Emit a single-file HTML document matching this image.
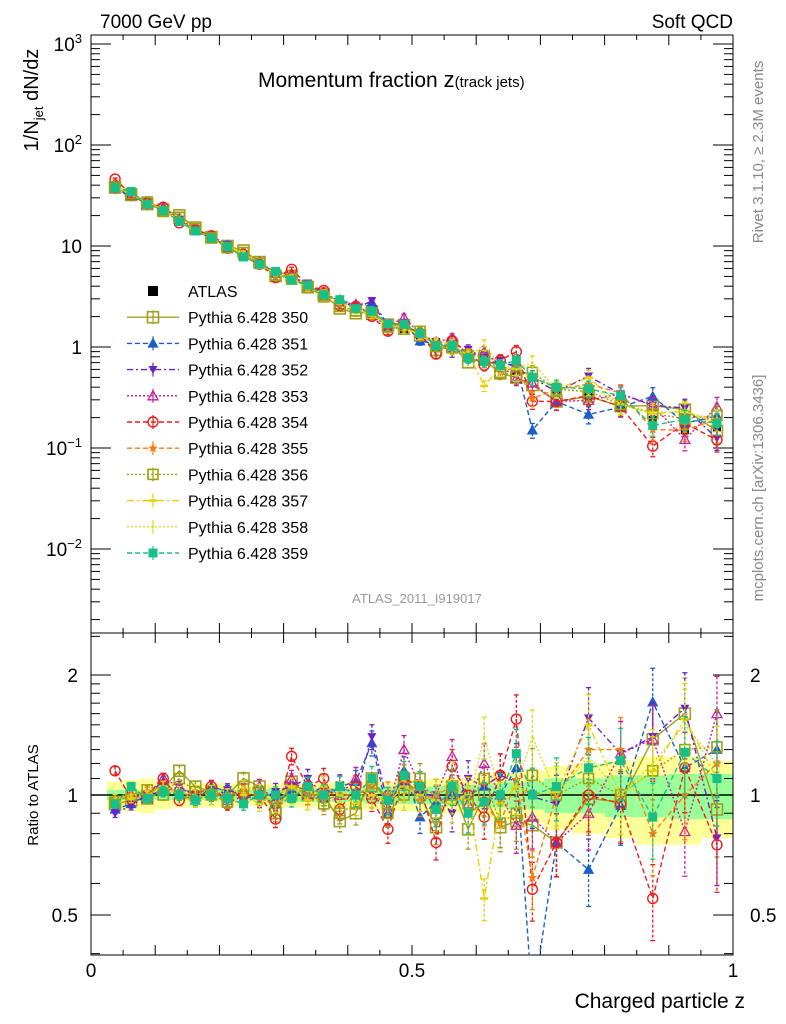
<!DOCTYPE html>
<html><head><meta charset="utf-8"><style>
body{margin:0;background:#fff;}
svg{display:block;font-family:"Liberation Sans",Arial,sans-serif;}
</style></head><body>
<svg id="chart" width="786" height="1024" viewBox="0 0 786 1024" xmlns="http://www.w3.org/2000/svg">
<defs>
<clipPath id="clipMain"><rect x="91" y="35" width="642" height="598"/></clipPath>
<clipPath id="clipRatio"><rect x="91" y="633" width="642" height="322"/></clipPath>
</defs>
<text x="100" y="28" font-size="19">7000 GeV pp</text>
<text x="733" y="28" font-size="19" text-anchor="end">Soft QCD</text>
<text x="258" y="87" font-size="21">Momentum fraction <tspan font-size="22">z</tspan><tspan font-size="15">(track jets)</tspan></text>
<text transform="translate(38,100) rotate(-90)" font-size="20" text-anchor="middle">1/N<tspan font-size="13" dy="5">jet</tspan><tspan dy="-5"> dN/dz</tspan></text>
<text transform="translate(763,152) rotate(-90)" font-size="15" fill="#888" text-anchor="middle">Rivet 3.1.10, ≥ 2.3M events</text>
<text transform="translate(763,488) rotate(-90)" font-size="15" fill="#888" text-anchor="middle">mcplots.cern.ch [arXiv:1306.3436]</text>
<text x="417" y="603" font-size="13" fill="#999" text-anchor="middle">ATLAS_2011_I919017</text>
<text transform="translate(38,795) rotate(-90)" font-size="15" text-anchor="middle">Ratio to ATLAS</text>
<text x="745" y="1008" font-size="21" text-anchor="end">Charged particle z</text>
<g id="gRatioBands"></g>
<g id="gAxes"></g>
<g id="gMain" clip-path="url(#clipMain)"></g>
<g id="gRatio" clip-path="url(#clipRatio)"></g>
<g id="gLegend"></g>
</svg>
<script>
const zBins=[0.0375,0.0625,0.0875,0.1125,0.1375,0.1625,0.1875,0.2125,0.2375,0.2625,0.2875,0.3125,0.3375,0.3625,0.3875,0.4125,0.4375,0.4625,0.4875,0.5125,0.5375,0.5625,0.5875,0.6125,0.6375,0.6625,0.6875,0.725,0.775,0.825,0.875,0.925,0.975];
const atlasValues=[40,33,26.5,22,17.5,14.5,12,10,8.2,6.6,5.6,4.7,3.9,3.3,2.8,2.4,2.05,1.75,1.5,1.3,1.12,0.98,0.86,0.75,0.66,0.58,0.5,0.38,0.33,0.27,0.19,0.15,0.16];
const atlasStatErr=[0.03,0.03,0.03,0.03,0.03,0.03,0.03,0.03,0.03,0.03,0.04,0.04,0.04,0.04,0.04,0.04,0.05,0.05,0.05,0.05,0.05,0.06,0.06,0.06,0.07,0.08,0.08,0.1,0.1,0.12,0.12,0.13,0.13];
const atlasTotErr=[0.08,0.09,0.1,0.08,0.07,0.07,0.07,0.07,0.06,0.06,0.07,0.07,0.07,0.07,0.08,0.08,0.08,0.08,0.09,0.09,0.1,0.1,0.1,0.12,0.13,0.14,0.15,0.18,0.2,0.22,0.25,0.25,0.22];
const mcErr=[0.04,0.04,0.04,0.05,0.05,0.05,0.06,0.06,0.06,0.07,0.08,0.08,0.09,0.1,0.1,0.11,0.12,0.13,0.14,0.15,0.16,0.17,0.18,0.2,0.22,0.25,0.28,0.3,0.32,0.34,0.36,0.38,0.4];
const r350=[0.95,0.97,0.98,1.04,1.15,1.05,1.02,1.0,1.1,1.05,0.9,1.08,1.0,1.0,0.86,0.9,1.1,0.95,1.1,1.0,0.83,1.05,0.82,1.0,0.83,0.86,0.84,0.76,0.98,0.96,1.38,1.6,0.92];
const r351=[0.92,0.95,1.0,1.08,1.0,0.97,1.05,1.02,0.98,1.0,0.95,1.03,1.0,0.98,1.05,1.08,1.35,0.9,1.15,0.88,0.96,1.0,1.0,1.05,1.0,1.17,0.3,0.76,0.65,0.94,1.71,1.17,1.3];
const r352=[0.9,0.94,1.0,1.02,1.05,1.0,0.98,1.03,1.0,0.97,1.02,1.05,1.1,1.0,1.06,1.0,1.4,0.95,1.05,1.0,1.0,0.9,1.1,1.05,1.12,1.08,0.99,0.95,1.56,1.27,1.4,1.65,0.78];
const r353=[0.96,1.0,0.98,1.1,1.05,0.99,1.02,0.97,1.03,1.05,0.97,1.1,1.0,1.05,1.0,1.1,1.0,0.92,1.3,1.05,1.0,1.25,0.95,1.2,1.0,0.84,0.88,0.76,0.9,1.27,1.38,0.81,1.6];
const r354=[1.15,0.98,1.0,1.1,0.97,1.0,1.05,0.95,1.0,1.0,0.87,1.25,1.05,1.1,0.92,1.05,0.98,0.82,1.1,1.05,0.76,1.18,1.0,0.88,1.12,1.55,0.58,0.76,1.0,0.95,0.55,1.17,0.75];
const r355=[0.97,1.0,1.02,1.05,1.02,0.98,1.0,1.0,1.02,0.98,0.95,1.05,1.0,0.97,1.0,1.0,1.05,1.0,1.1,0.97,1.0,1.05,0.9,0.95,0.85,1.09,0.62,1.0,1.3,1.3,0.8,1.0,1.2];
const r356=[0.96,1.0,1.03,1.0,1.1,1.02,1.0,0.96,1.05,1.02,0.92,1.0,1.02,0.95,0.9,0.95,1.05,0.9,1.0,1.1,0.9,1.0,0.95,1.1,0.85,0.9,1.12,1.0,1.1,1.0,1.15,1.3,1.32];
const r357=[0.95,0.98,1.0,1.05,1.0,0.96,1.02,1.0,1.0,0.95,1.0,1.05,0.97,1.05,1.0,0.95,1.0,0.96,1.05,1.0,0.97,0.95,1.0,0.55,0.95,1.05,1.0,1.02,1.5,1.0,1.15,1.55,1.1];
const r358=[0.98,1.0,1.0,1.05,1.02,1.0,0.98,1.0,1.05,1.02,0.95,1.0,1.05,1.0,1.02,1.0,1.0,0.97,1.0,1.05,1.0,1.1,0.95,1.4,1.0,1.05,1.4,1.0,1.25,1.0,1.2,1.5,1.2];
const r359=[0.95,1.05,0.98,1.02,1.0,0.97,1.0,0.98,0.95,1.0,1.0,0.98,1.05,1.0,1.05,1.0,1.1,0.97,1.12,1.05,0.92,1.05,0.9,0.96,1.0,1.27,1.0,1.05,1.17,1.22,0.88,1.28,1.1];
const seriesNames=["Pythia 6.428 350","Pythia 6.428 351","Pythia 6.428 352","Pythia 6.428 353","Pythia 6.428 354","Pythia 6.428 355","Pythia 6.428 356","Pythia 6.428 357","Pythia 6.428 358","Pythia 6.428 359"];
const seriesRatios=[r350,r351,r352,r353,r354,r355,r356,r357,r358,r359];
const yTickLabels=["10^3","10^2","10","1","10^-1","10^-2"];
const xTickLabels=["0","0.5","1"];
const ratioTickLabels=["2","1","0.5"];

const styles=[
 {c:"#a0a020",d:"",m:"osq",s:11},
 {c:"#1a5fc8",d:"5,3",m:"tri",s:9},
 {c:"#6a22c8",d:"6,3,2,3",m:"dtri",s:9},
 {c:"#c81ea0",d:"2,2",m:"otri",s:10},
 {c:"#ee1c1c",d:"5,3",m:"ocirc",s:10},
 {c:"#ff7a10",d:"5,3",m:"star",s:10},
 {c:"#a0a010",d:"2,2",m:"osq",s:10},
 {c:"#e8d000",d:"7,3,2,3",m:"dash",s:8},
 {c:"#d0e020",d:"2,2",m:"dot",s:4},
 {c:"#18c088",d:"5,3",m:"fsq",s:8}];

const NS="http://www.w3.org/2000/svg";
function el(tag,attrs,parent){const e=document.createElementNS(NS,tag);for(const k in attrs)e.setAttribute(k,attrs[k]);if(parent)parent.appendChild(e);return e;}
const X=z=>91+z*642;
const YM=v=>347-101*Math.log10(v);
const YR=r=>795-120*Math.log2(r);

function marker(g,type,x,y,s,c){
 const h=s/2;let e;
 if(type==="osq"||type==="fsq"){e=el("rect",{x:x-h,y:y-h,width:s,height:s,fill:type==="fsq"?c:"none",stroke:c,"stroke-width":type==="osq"?1.6:1},g);}
 else if(type==="sq"){e=el("rect",{x:x-h,y:y-h,width:s,height:s,fill:c},g);}
 else if(type==="tri"||type==="otri"){e=el("polygon",{points:`${x},${y-h} ${x+h},${y+h*0.8} ${x-h},${y+h*0.8}`,fill:type==="tri"?c:"none",stroke:c,"stroke-width":1.3},g);}
 else if(type==="dtri"){e=el("polygon",{points:`${x},${y+h} ${x+h},${y-h*0.8} ${x-h},${y-h*0.8}`,fill:c},g);}
 else if(type==="ocirc"){e=el("circle",{cx:x,cy:y,r:h,fill:"none",stroke:c,"stroke-width":1.4},g);}
 else if(type==="star"){let p=[];for(let i=0;i<10;i++){const a=-Math.PI/2+i*Math.PI/5;const r=i%2?h*0.45:h;p.push((x+r*Math.cos(a)).toFixed(1)+","+(y+r*Math.sin(a)).toFixed(1));}e=el("polygon",{points:p.join(" "),fill:c},g);}
 else if(type==="dash"){e=el("rect",{x:x-h,y:y-1.2,width:s,height:2.4,fill:c},g);}
 else if(type==="dot"){e=el("circle",{cx:x,cy:y,r:h*0.6,fill:c},g);}
 return e;
}

const ax=document.getElementById("gAxes");
el("rect",{x:91,y:35,width:642,height:598,fill:"none",stroke:"#000","stroke-width":1},ax);
el("rect",{x:91,y:633,width:642,height:322,fill:"none",stroke:"#000","stroke-width":1},ax);
for(let i=0;i<=20;i++){const z=i*0.05,x=X(z),L=(i%2===0)?10:5;
 for(const [y0,dir] of [[35,1],[633,-1],[633,1],[955,-1]]){el("line",{x1:x,x2:x,y1:y0,y2:y0+dir*L,stroke:"#000","stroke-width":1},ax);}
}
xTickLabels.forEach((t,i)=>{const tx=el("text",{x:X(i*0.5),y:977,"font-size":19,"text-anchor":"middle"},ax);tx.textContent=t;
 
 });
for(let d=-3;d<=3;d++){for(let m=1;m<10;m++){const v=m*Math.pow(10,d),y=YM(v);if(y<35||y>633)continue;const L=m===1?20:9;
 el("line",{x1:91,x2:91+L,y1:y,y2:y,stroke:"#000","stroke-width":1},ax);el("line",{x1:733,x2:733-L,y1:y,y2:y,stroke:"#000","stroke-width":1},ax);}}
yTickLabels.forEach((t,i)=>{const y=YM(Math.pow(10,3-i));const g=el("text",{x:82,y:y+7,"font-size":19,"text-anchor":"end"},ax);
 
 
 const p=t.split("^");g.appendChild(document.createTextNode(p[0]));if(p[1]){const ts=el("tspan",{dy:-8,"font-size":13},g);ts.textContent=p[1].replace("-","−");}});
[0.4,0.5,0.6,0.7,0.8,0.9,1,1.1,1.2,1.3,1.4,1.5,1.6,1.7,1.8,1.9,2,2.5].forEach(r=>{const y=YR(r);if(y<633||y>955)return;const L=(r===0.5||r===1||r===2)?20:9;
 el("line",{x1:91,x2:91+L,y1:y,y2:y,stroke:"#000","stroke-width":1},ax);el("line",{x1:733,x2:733-L,y1:y,y2:y,stroke:"#000","stroke-width":1},ax);});
ratioTickLabels.forEach(t=>{const y=YR(parseFloat(t));
 const a=el("text",{x:78,y:y+7,"font-size":19,"text-anchor":"end"},ax);a.textContent=t;
 
 
 const b=el("text",{x:750,y:y+7,"font-size":19},ax);b.textContent=t;
 
 });

function edges(i){const lo=i===0?zBins[0]-0.0125:(zBins[i]+zBins[i-1])/2;const hi=i===zBins.length-1?zBins[i]+0.025:(zBins[i]+zBins[i+1])/2;return [lo,hi];}
const gb=document.getElementById("gRatioBands");
zBins.forEach((z,i)=>{const [lo,hi]=edges(i);
 const yb=el("rect",{x:X(lo),width:X(hi)-X(lo),y:YR(1+atlasTotErr[i]),height:YR(1-atlasTotErr[i])-YR(1+atlasTotErr[i]),fill:"#ffff99"},gb);
 
 
 const gbd=el("rect",{x:X(lo),width:X(hi)-X(lo),y:YR(1+atlasStatErr[i]),height:YR(1-atlasStatErr[i])-YR(1+atlasStatErr[i]),fill:"#99ff99"},gb);
 
 });
el("line",{x1:91,x2:733,y1:YR(1),y2:YR(1),stroke:"#000","stroke-width":1.5},gb);

const gm=document.getElementById("gMain"),gr=document.getElementById("gRatio");
function errbar(g,x,y1,y2,c){el("line",{x1:x,x2:x,y1:y1,y2:y2,stroke:c,"stroke-width":1.3,"stroke-dasharray":"3,2"},g);
 el("line",{x1:x-2.5,x2:x+2.5,y1:y1,y2:y1,stroke:c,"stroke-width":1.3},g);el("line",{x1:x-2.5,x2:x+2.5,y1:y2,y2:y2,stroke:c,"stroke-width":1.3},g);}

// ATLAS data first (underneath MC)
const ga=el("g",{},gm);
zBins.forEach((z,i)=>{const x=X(z),v=atlasValues[i];
 el("line",{x1:x,x2:x,y1:YM(v*(1+atlasTotErr[i])),y2:YM(v*(1-atlasTotErr[i])),stroke:"#000","stroke-width":1.3},ga);
 const m=marker(ga,"sq",x,YM(v),8,"#000");
 
 });

seriesRatios.forEach((rs,k)=>{const st=styles[k];
 const gs=el("g",{},gm);
 const gsr=el("g",{},gr);
 const pm=zBins.map((z,i)=>X(z).toFixed(1)+","+YM(atlasValues[i]*rs[i]).toFixed(1)).join(" ");
 const pr=zBins.map((z,i)=>X(z).toFixed(1)+","+YR(rs[i]).toFixed(1)).join(" ");
 el("polyline",{points:pm,fill:"none",stroke:st.c,"stroke-width":1.4,"stroke-dasharray":st.d},gs);
 el("polyline",{points:pr,fill:"none",stroke:st.c,"stroke-width":1.4,"stroke-dasharray":st.d},gsr);
 zBins.forEach((z,i)=>{const x=X(z),v=atlasValues[i]*rs[i],e=mcErr[i]*0.6;
  errbar(gs,x,YM(v*(1+e)),YM(v*(1-e)),st.c);
  errbar(gsr,x,YR(rs[i]*(1+e)),YR(rs[i]*(1-e)),st.c);
  const m1=marker(gs,st.m,x,YM(v),st.s,st.c);
  
  
  const m2=marker(gsr,st.m,x,YR(rs[i]),st.s,st.c);
  
  });
});

const gl=document.getElementById("gLegend");
const names=["ATLAS"].concat(seriesNames);
names.forEach((n,j)=>{const y=291+j*26.2;const g=el("g",{},gl);
 
 
 if(j===0){marker(g,"sq",153,y,10,"#000");}
 else{const st=styles[j-1];el("line",{x1:127,x2:179,y1:y,y2:y,stroke:st.c,"stroke-width":1.4,"stroke-dasharray":st.d},g);
  el("line",{x1:153,x2:153,y1:y-7,y2:y+7,stroke:st.c,"stroke-width":1.2},g);
  marker(g,st.m,153,y,st.s,st.c);}
 const t=el("text",{x:188,y:y+6,"font-size":16},g);t.textContent=n;});
</script>
</body></html>
